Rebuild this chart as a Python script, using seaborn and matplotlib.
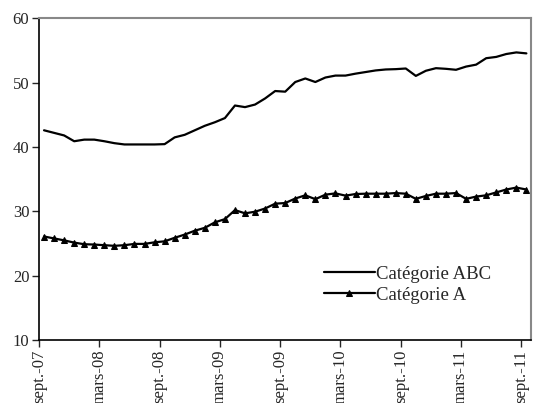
import numpy as np
import pandas as pd
import seaborn as sns
import matplotlib.pyplot as plt

sns.set_style("white")
plt.rcParams['font.family'] = ['Liberation Serif', 'DejaVu Serif']

# mois de sept-07 à sept-11 (49 points)
mois = np.arange(49)
etiquettes = ["sept.-07", "mars-08", "sept.-08", "mars-09", "sept.-09",
              "mars-10", "sept.-10", "mars-11", "sept.-11"]

cat_abc = [42.6, 42.2, 41.8, 40.9, 41.15, 41.15, 40.9, 40.6, 40.4, 40.4,
           40.4, 40.4, 40.45, 41.5, 41.9, 42.6, 43.3, 43.85, 44.5, 46.45,
           46.2, 46.6, 47.55, 48.7, 48.6, 50.1, 50.65, 50.1, 50.8, 51.1,
           51.1, 51.4, 51.65, 51.9, 52.05, 52.1, 52.2, 51.05, 51.85, 52.25,
           52.15, 52.0, 52.5, 52.8, 53.8, 54.0, 54.45, 54.7, 54.55]

cat_a = [26.1, 25.8, 25.5, 25.15, 24.9, 24.85, 24.75, 24.65, 24.75, 24.95,
         24.95, 25.2, 25.35, 25.9, 26.4, 27.0, 27.45, 28.3, 28.8, 30.2,
         29.7, 29.95, 30.45, 31.2, 31.3, 32.0, 32.5, 31.9, 32.6, 32.8,
         32.45, 32.7, 32.75, 32.75, 32.75, 32.85, 32.75, 31.95, 32.4, 32.75,
         32.75, 32.85, 31.95, 32.3, 32.5, 32.95, 33.4, 33.7, 33.4]

df = pd.DataFrame({"mois": mois, "abc": cat_abc, "a": cat_a})

fig = plt.figure(figsize=(5.33, 4.03), dpi=100)
ax = fig.add_axes([0.0732, 0.156, 0.9238, 0.7986])

sns.lineplot(data=df, x="mois", y="abc", color="black", linewidth=1.6,
             label="Catégorie ABC", ax=ax)
sns.lineplot(data=df, x="mois", y="a", color="black", linewidth=1.6,
             marker="^", markersize=5, markeredgecolor="black",
             label="Catégorie A", ax=ax)

ax.set_xlim(-0.5, 48.5)
ax.set_ylim(10, 60)
ax.set_yticks(range(10, 61, 10))
ax.set_xticks(np.arange(0, 49, 6) - 0.5)
ax.set_xticklabels(etiquettes, rotation=90, fontsize=12)
ax.tick_params(axis="y", labelsize=12, length=5, width=1, direction="out", left=True, pad=2)
ax.tick_params(axis="x", length=5, width=1, direction="out", bottom=True, pad=2)
ax.set_xlabel("")
ax.set_ylabel("")

for s in ["left", "bottom"]:
    ax.spines[s].set_color("black")
    ax.spines[s].set_linewidth(1.2)
for s in ["top", "right"]:
    ax.spines[s].set_color("#888888")
    ax.spines[s].set_linewidth(1.5)

ax.legend(loc="center left", bbox_to_anchor=(0.5635, 0.1725), frameon=False,
          borderaxespad=0, fontsize=13.5, handlelength=2.7, handletextpad=0.05,
          labelspacing=0.2)

fig.savefig("out.png", dpi=100)
